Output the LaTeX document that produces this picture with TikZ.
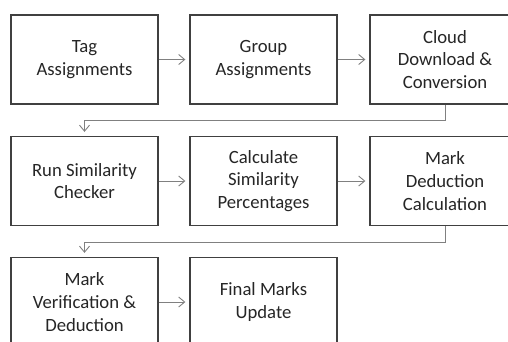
\documentclass[tikz,border=0pt]{standalone}
\usepackage{fontspec}
\setmainfont{Carlito}
\usetikzlibrary{arrows.meta}
\definecolor{boxline}{HTML}{404040}
\definecolor{conn}{HTML}{808080}
\definecolor{txt}{HTML}{262626}
\begin{document}
\begin{tikzpicture}[x=1pt,y=-1pt,
  stepbox/.style={draw=boxline, line width=1.3pt, fill=white, minimum width=147pt, minimum height=89pt,
    inner sep=0pt, align=center, text=txt, font=\fontsize{18.7}{22.7}\selectfont},
  flow/.style={draw=conn, line width=0.9pt, -{Straight Barb[length=6pt,width=10pt]}, shorten >=4pt}]
\useasboundingbox (0,0) rectangle (508,341);
\clip (0,0) rectangle (508,341);
\node[stepbox] (a) at (84.5,59.5) {Tag\\Assignments};
\node[stepbox] (b) at (263.5,59.5) {Group\\Assignments};
\node[stepbox, minimum width=150pt] (c) at (445,59.5) {Cloud\\Download \&\\Conversion};
\node[stepbox] (d) at (84.5,181) {Run Similarity\\Checker};
\node[stepbox] (e) at (263.5,181) {Calculate\\Similarity\\Percentages};
\node[stepbox, minimum width=150pt] (f) at (445,181) {Mark\\Deduction\\Calculation};
\node[stepbox] (g) at (84.5,302) {Mark\\Verification \&\\Deduction};
\node[stepbox] (h) at (263.5,302) {Final Marks\\Update};
\coordinate (r1) at (445,120);
\coordinate (r2) at (445,242);
\draw[flow] (a) -- (b);
\draw[flow] (b) -- (c);
\draw[flow] (c.south) -- (r1) -| (d.north);
\draw[flow] (d) -- (e);
\draw[flow] (e) -- (f);
\draw[flow] (f.south) -- (r2) -| (g.north);
\draw[flow] (g) -- (h);
\end{tikzpicture}
\end{document}
